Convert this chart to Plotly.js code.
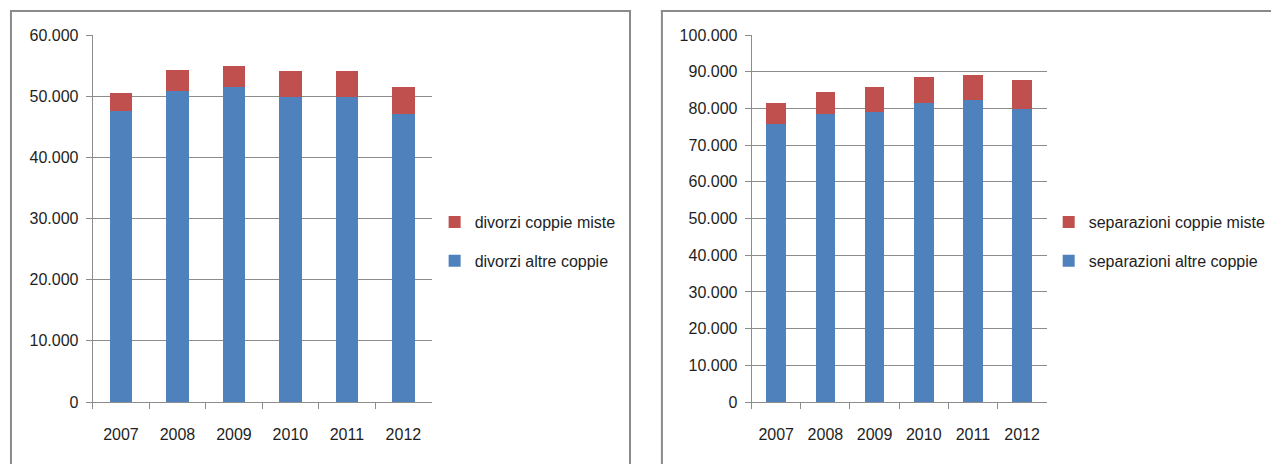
<!DOCTYPE html>
<html>
<head>
<meta charset="utf-8">
<script src="https://cdn.plot.ly/plotly-3.0.1.min.js"></script>
<style>html,body{margin:0;padding:0;background:#fff;}#chart{width:1271px;height:464px;}</style>
</head>
<body>
<div id="chart"></div>
<script>
const years = ['2007', '2008', '2009', '2010', '2011', '2012'];
const divorziAltre = [47550, 50870, 51420, 49890, 49890, 47060];
const divorziMiste = [2990, 3330, 3480, 4190, 4190, 4520];
const separazioniAltre = [75880, 78410, 78950, 81400, 82300, 79770];
const separazioniMiste = [5520, 6080, 7000, 7270, 6920, 8090];
const leftTicks = [0, 10000, 20000, 30000, 40000, 50000, 60000];
const rightTicks = [0, 10000, 20000, 30000, 40000, 50000, 60000, 70000, 80000, 90000, 100000];

const W = 1271, H = 464;
const px = v => v / W;
const py = v => (H - v) / H;

const BLUE = '#4F81BD', RED = '#C0504D';
const FONT = {family: '"Liberation Sans", Arial, sans-serif', size: 16, color: '#1e1e1e'};

const traces = [
  {type: 'bar', x: years, y: divorziAltre, name: 'divorzi altre coppie', marker: {color: BLUE},
   xaxis: 'x', yaxis: 'y', legend: 'legend', legendgroup: 'a', legendrank: 2},
  {type: 'bar', x: years, y: divorziMiste, name: 'divorzi coppie miste', marker: {color: RED},
   xaxis: 'x', yaxis: 'y', legend: 'legend', legendgroup: 'b', legendrank: 1},
  {type: 'bar', x: years, y: separazioniAltre, name: 'separazioni altre coppie', marker: {color: BLUE},
   xaxis: 'x2', yaxis: 'y2', legend: 'legend2', legendgroup: 'c', legendrank: 2},
  {type: 'bar', x: years, y: separazioniMiste, name: 'separazioni coppie miste', marker: {color: RED},
   xaxis: 'x2', yaxis: 'y2', legend: 'legend2', legendgroup: 'd', legendrank: 1}
];

const GRID = '#8c8c8c';
function xAxis(d) {
  return {domain: d, type: 'category', showgrid: false, showline: true, linecolor: GRID, linewidth: 1,
          ticks: 'outside', tickson: 'boundaries', ticklen: 6, tickcolor: GRID,
          ticklabelstandoff: 18, tickfont: FONT, fixedrange: true, zeroline: false};
}
function yAxis(d, range, vals) {
  return {domain: d, range: range, tickvals: vals, tickformat: ',d', showgrid: true, gridcolor: GRID,
          gridwidth: 1, showline: true, linecolor: GRID, linewidth: 1, ticks: 'outside', ticklen: 6,
          tickcolor: GRID, tickfont: FONT, zeroline: false, fixedrange: true, ticklabelstandoff: 4};
}

const frameLine = {color: '#8a8a8a', width: 2};
const layout = {
  width: W, height: H,
  margin: {l: 0, r: 0, t: 0, b: 0},
  paper_bgcolor: '#fff', plot_bgcolor: '#fff',
  separators: ',.',
  barmode: 'stack', bargap: 0.6,
  font: FONT,
  xaxis: xAxis([px(93), px(433)]),
  yaxis: yAxis([py(402), py(35)], [0, 60000], leftTicks),
  xaxis2: Object.assign(xAxis([px(754), px(1050)]), {anchor: 'y2'}),
  yaxis2: Object.assign(yAxis([py(402), py(35)], [0, 100000], rightTicks), {anchor: 'x2'}),
  legend: {x: px(436), y: py(205), xanchor: 'left', yanchor: 'top', traceorder: 'grouped',
           tracegroupgap: 15, font: FONT, bgcolor: 'rgba(0,0,0,0)', itemwidth: 30},
  legend2: {x: px(1052), y: py(205), xanchor: 'left', yanchor: 'top', traceorder: 'grouped',
            tracegroupgap: 15, font: FONT, bgcolor: 'rgba(0,0,0,0)', itemwidth: 30},
  shapes: [
    {type: 'line', xref: 'paper', yref: 'paper', x0: px(11), x1: px(11), y0: py(10), y1: -0.05, line: frameLine},
    {type: 'line', xref: 'paper', yref: 'paper', x0: px(10), x1: px(633), y0: py(11), y1: py(11), line: frameLine},
    {type: 'line', xref: 'paper', yref: 'paper', x0: px(632), x1: px(632), y0: py(10), y1: -0.05, line: frameLine},
    {type: 'line', xref: 'paper', yref: 'paper', x0: px(664), x1: px(664), y0: py(10), y1: -0.05, line: frameLine},
    {type: 'line', xref: 'paper', yref: 'paper', x0: px(663), x1: 1.05, y0: py(11), y1: py(11), line: frameLine}
  ]
};

Plotly.newPlot('chart', traces, layout, {displayModeBar: false, staticPlot: true});
</script>
</body>
</html>
